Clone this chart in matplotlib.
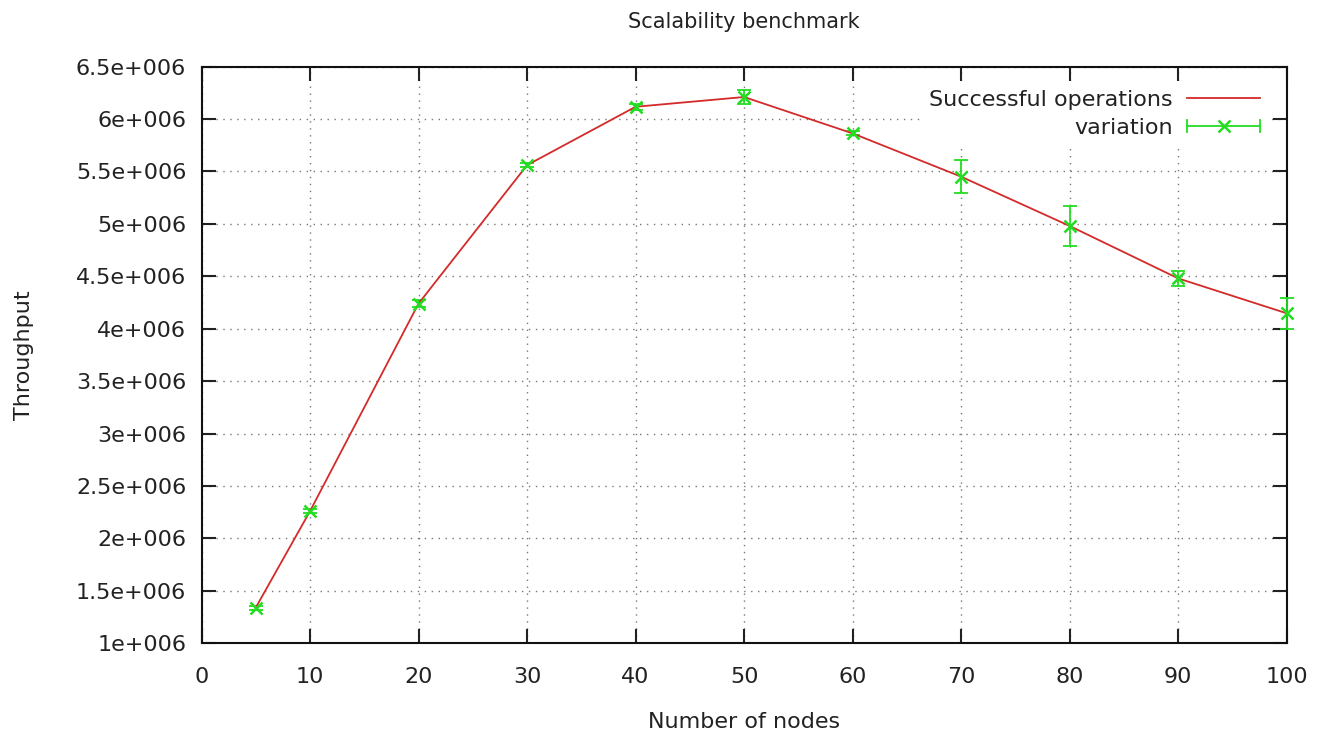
import matplotlib
matplotlib.use("Agg")
import matplotlib.pyplot as plt
from matplotlib.legend_handler import HandlerBase
from matplotlib.lines import Line2D
from matplotlib.ticker import FuncFormatter

# Benchmark results
nodes = [5, 10, 20, 30, 40, 50, 60, 70, 80, 90, 100]
throughput = [1.34e6, 2.26e6, 4.24e6, 5.56e6, 6.117e6, 6.21e6,
              5.863e6, 5.45e6, 4.98e6, 4.48e6, 4.147e6]
variation = [0.02e6, 0.02e6, 0.03e6, 0.02e6, 0.03e6, 0.07e6,
             0.02e6, 0.16e6, 0.19e6, 0.07e6, 0.145e6]

x_ticks = [0, 10, 20, 30, 40, 50, 60, 70, 80, 90, 100]
y_ticks = [1e6, 1.5e6, 2e6, 2.5e6, 3e6, 3.5e6, 4e6, 4.5e6, 5e6, 5.5e6, 6e6, 6.5e6]

RED = "#d42a2a"
GREEN = "#22dd22"
TXT = "#222222"
FS = 16

plt.rcParams["font.family"] = ["DejaVu Sans"]

fig = plt.figure(figsize=(13.17, 7.36), dpi=100)
ax = fig.add_axes([0.153, 0.126, 0.824, 0.7835])


def gp_fmt(v, pos):
    # gnuplot-style exponent notation, e.g. 6.5e+006
    return ("%g" % (v / 1e6)) + "e+006"


ax.errorbar(nodes, throughput, yerr=variation, fmt="none", ecolor=GREEN,
            elinewidth=1.3, capsize=5, capthick=1.3, zorder=3, clip_on=False)
ax.plot(nodes, throughput, color=RED, lw=1.3, zorder=4)
ax.plot(nodes, throughput, ls="none", marker="x", ms=9, mew=1.8,
        color=GREEN, zorder=5, clip_on=False)

ax.set_xlim(0, 100)
ax.set_ylim(1e6, 6.5e6)
ax.set_xticks(x_ticks)
ax.set_yticks(y_ticks)
ax.yaxis.set_major_formatter(FuncFormatter(gp_fmt))

ax.grid(True, color="#777777", lw=1.0, ls=(0, (1, 4)))
ax.set_axisbelow(True)
ax.tick_params(direction="in", length=10, width=1.5, top=True, right=True,
               labelsize=FS, colors=TXT)
ax.tick_params(axis="x", pad=17)
ax.tick_params(axis="y", pad=11)
for sp in ax.spines.values():
    sp.set_linewidth(1.5)
    sp.set_color("#111111")

ax.set_title("Scalability benchmark", fontsize=15, color=TXT,
             y=1.0773, pad=0, va="center")
ax.set_xlabel("Number of nodes", fontsize=FS, color=TXT, va="center")
ax.xaxis.set_label_coords(0.5, -0.1365)
ax.set_ylabel("Throughput", fontsize=FS, color=TXT, va="center")
ax.yaxis.set_label_coords(-0.1636, 0.5)


class HandlerGpErr(HandlerBase):
    """Horizontal error-bar sample with end caps and a centre cross."""

    def create_artists(self, legend, orig_handle, xdescent, ydescent,
                       width, height, fontsize, trans):
        y = height / 2 - ydescent
        x0, x1 = -xdescent, width - xdescent
        cap = height * 0.4
        arts = [
            Line2D([x0, x1], [y, y], color=GREEN, lw=1.3),
            Line2D([x0, x0], [y - cap, y + cap], color=GREEN, lw=1.3),
            Line2D([x1, x1], [y - cap, y + cap], color=GREEN, lw=1.3),
            Line2D([(x0 + x1) / 2], [y], marker="x", ms=9, mew=1.8, color=GREEN),
        ]
        for a in arts:
            a.set_transform(trans)
        return arts


h_line = Line2D([], [], color=RED, lw=1.3)
h_err = Line2D([], [], color=GREEN)
leg = ax.legend([h_line, h_err], ["Successful operations", "variation"],
                handler_map={h_err: HandlerGpErr()},
                loc="upper right", bbox_to_anchor=(0.992, 0.99),
                markerfirst=False, frameon=True, fontsize=FS,
                handlelength=3.3, handletextpad=0.63, labelspacing=0.35,
                borderpad=0.3)
leg.get_frame().set_edgecolor("none")
leg.get_frame().set_facecolor("white")
leg.get_frame().set_alpha(1.0)
for t in leg.get_texts():
    t.set_color(TXT)

fig.savefig("out.png", dpi=100)
